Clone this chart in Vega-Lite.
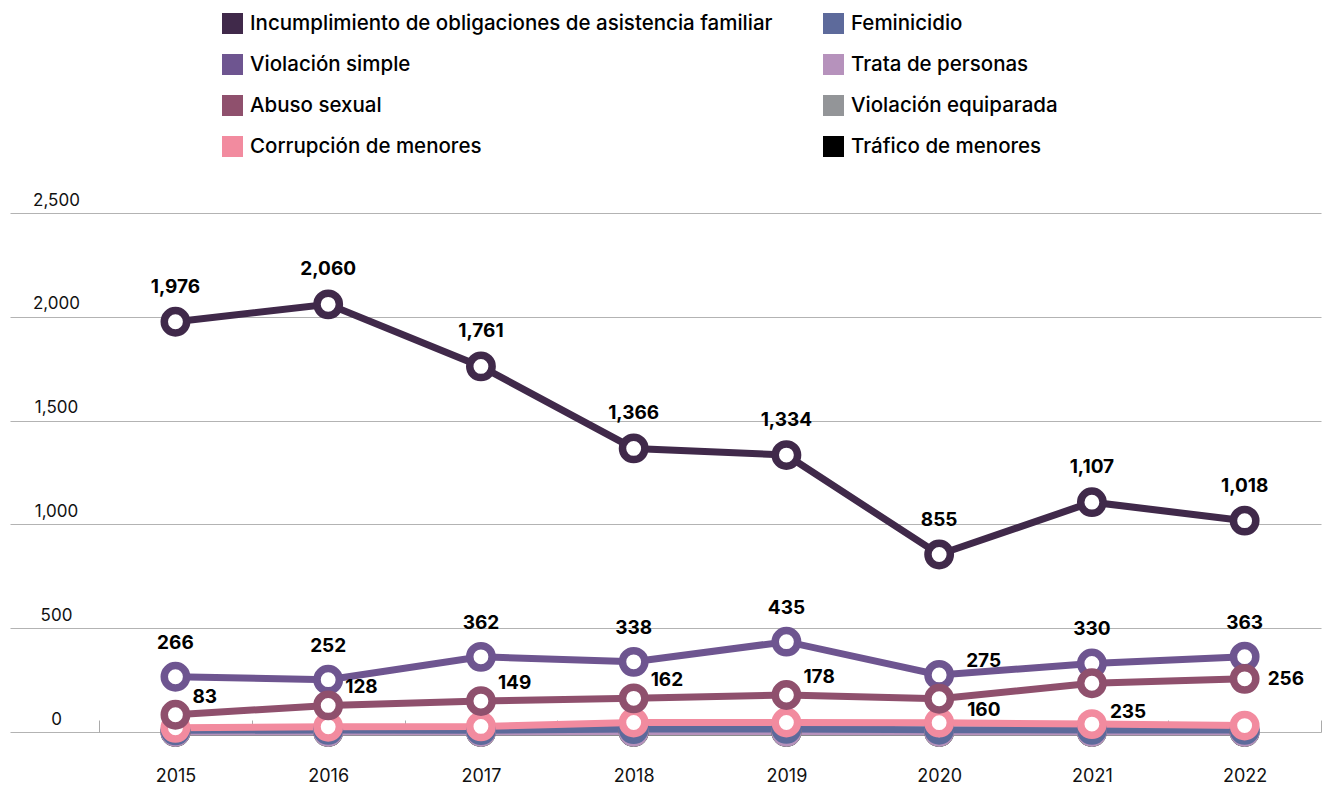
{
  "$schema": "https://vega.github.io/schema/vega-lite/v6.json",
  "autosize": {"type": "none"},
  "padding": {"left": 10, "top": 213, "right": 3, "bottom": 57},
  "width": 1311,
  "height": 519,
  "background": "white",
  "config": {
    "view": {"stroke": null},
    "font": "Inter",
    "axis": {"labelFont": "Inter", "labelColor": "#111111", "title": null}
  },
  "data": {
    "values": [
      {"s": "Tráfico de menores", "y": "2015", "v": 0},
      {"s": "Tráfico de menores", "y": "2016", "v": 0},
      {"s": "Tráfico de menores", "y": "2017", "v": 0},
      {"s": "Tráfico de menores", "y": "2018", "v": 0},
      {"s": "Tráfico de menores", "y": "2019", "v": 0},
      {"s": "Tráfico de menores", "y": "2020", "v": 0},
      {"s": "Tráfico de menores", "y": "2021", "v": 0},
      {"s": "Tráfico de menores", "y": "2022", "v": 0},
      {"s": "Violación equiparada", "y": "2015", "v": 0},
      {"s": "Violación equiparada", "y": "2016", "v": 0},
      {"s": "Violación equiparada", "y": "2017", "v": 0},
      {"s": "Violación equiparada", "y": "2018", "v": 0},
      {"s": "Violación equiparada", "y": "2019", "v": 0},
      {"s": "Violación equiparada", "y": "2020", "v": 0},
      {"s": "Violación equiparada", "y": "2021", "v": 0},
      {"s": "Violación equiparada", "y": "2022", "v": 0},
      {"s": "Trata de personas", "y": "2015", "v": 1},
      {"s": "Trata de personas", "y": "2016", "v": 1},
      {"s": "Trata de personas", "y": "2017", "v": 1},
      {"s": "Trata de personas", "y": "2018", "v": 2},
      {"s": "Trata de personas", "y": "2019", "v": 2},
      {"s": "Trata de personas", "y": "2020", "v": 1},
      {"s": "Trata de personas", "y": "2021", "v": 1},
      {"s": "Trata de personas", "y": "2022", "v": 1},
      {"s": "Feminicidio", "y": "2015", "v": 8},
      {"s": "Feminicidio", "y": "2016", "v": 10},
      {"s": "Feminicidio", "y": "2017", "v": 9},
      {"s": "Feminicidio", "y": "2018", "v": 14},
      {"s": "Feminicidio", "y": "2019", "v": 15},
      {"s": "Feminicidio", "y": "2020", "v": 11},
      {"s": "Feminicidio", "y": "2021", "v": 10},
      {"s": "Feminicidio", "y": "2022", "v": 10},
      {"s": "Corrupción de menores", "y": "2015", "v": 20},
      {"s": "Corrupción de menores", "y": "2016", "v": 25},
      {"s": "Corrupción de menores", "y": "2017", "v": 27},
      {"s": "Corrupción de menores", "y": "2018", "v": 46},
      {"s": "Corrupción de menores", "y": "2019", "v": 46},
      {"s": "Corrupción de menores", "y": "2020", "v": 45},
      {"s": "Corrupción de menores", "y": "2021", "v": 38},
      {"s": "Corrupción de menores", "y": "2022", "v": 31},
      {"s": "Violación simple", "y": "2015", "v": 266},
      {"s": "Violación simple", "y": "2016", "v": 252},
      {"s": "Violación simple", "y": "2017", "v": 362},
      {"s": "Violación simple", "y": "2018", "v": 338},
      {"s": "Violación simple", "y": "2019", "v": 435},
      {"s": "Violación simple", "y": "2020", "v": 275},
      {"s": "Violación simple", "y": "2021", "v": 330},
      {"s": "Violación simple", "y": "2022", "v": 363},
      {"s": "Abuso sexual", "y": "2015", "v": 83},
      {"s": "Abuso sexual", "y": "2016", "v": 128},
      {"s": "Abuso sexual", "y": "2017", "v": 149},
      {"s": "Abuso sexual", "y": "2018", "v": 162},
      {"s": "Abuso sexual", "y": "2019", "v": 178},
      {"s": "Abuso sexual", "y": "2020", "v": 160},
      {"s": "Abuso sexual", "y": "2021", "v": 235},
      {"s": "Abuso sexual", "y": "2022", "v": 256},
      {"s": "Incumplimiento de obligaciones de asistencia familiar", "y": "2015", "v": 1976},
      {"s": "Incumplimiento de obligaciones de asistencia familiar", "y": "2016", "v": 2060},
      {"s": "Incumplimiento de obligaciones de asistencia familiar", "y": "2017", "v": 1761},
      {"s": "Incumplimiento de obligaciones de asistencia familiar", "y": "2018", "v": 1366},
      {"s": "Incumplimiento de obligaciones de asistencia familiar", "y": "2019", "v": 1334},
      {"s": "Incumplimiento de obligaciones de asistencia familiar", "y": "2020", "v": 855},
      {"s": "Incumplimiento de obligaciones de asistencia familiar", "y": "2021", "v": 1107},
      {"s": "Incumplimiento de obligaciones de asistencia familiar", "y": "2022", "v": 1018}
    ]
  },
  "encoding": {
    "x": {
      "field": "y", "type": "nominal", "sort": null,
      "scale": {"type": "band", "domain": ["2015","2016","2017","2018","2019","2020","2021","2022"], "paddingInner": 0, "paddingOuter": 0.2916, "align": 1},
      "axis": {"domain": false, "grid": false, "labelAngle": 0, "labelFontSize": 18, "labelPadding": 47, "labelBaseline": "top", "tickBand": "extent", "tickSize": -12, "tickColor": "#aaaaaa", "tickWidth": 1}
    },
    "y": {
      "field": "v", "type": "quantitative",
      "scale": {"domain": [0, 2500], "nice": false, "zero": true},
      "axis": {"values": [0, 500, 1000, 1500, 2000, 2500], "format": ",.0f", "domain": false, "ticks": false, "tickSize": 0, "grid": true, "gridColor": "#b3b3b3", "gridWidth": 1, "labelAlign": "center", "labelPadding": -46, "labelBaseline": "alphabetic", "labelOffset": -8, "labelFontSize": 17}
    }
  },
  "layer": [
    {
      "transform": [{"filter": "false"}],
      "mark": {"type": "square", "filled": true},
      "encoding": {
        "color": {
          "field": "s", "type": "nominal",
          "scale": {
            "domain": ["Incumplimiento de obligaciones de asistencia familiar", "Feminicidio", "Violación simple", "Trata de personas", "Abuso sexual", "Violación equiparada", "Corrupción de menores", "Tráfico de menores"],
            "range": ["#40294a", "#5d6a9b", "#6e5590", "#b692bc", "#8f506d", "#939598", "#f28b9f", "#000000"]
          },
          "legend": {
            "title": null, "orient": "none", "legendX": 212, "legendY": -200, "columns": 2, "direction": "horizontal",
            "padding": 0, "symbolType": "square", "symbolSize": 440, "symbolStrokeWidth": 0, "symbolOpacity": 1,
            "labelFont": "Inter", "labelFontWeight": 500, "labelFontSize": 20.5, "labelColor": "#000000", "labelLimit": 0,
            "labelOffset": 7, "rowPadding": 20, "columnPadding": 50
          }
        }
      }
    },
    {
      "mark": {"type": "line", "strokeWidth": 7},
      "encoding": {
        "color": {"field": "s", "type": "nominal", "legend": null},
        "detail": {"field": "s"}
      }
    },
    {
      "mark": {"type": "point", "filled": false, "fill": "white", "fillOpacity": 1, "opacity": 1, "size": 500, "strokeWidth": 7.5, "shape": "circle"},
      "encoding": {
        "color": {"field": "s", "type": "nominal", "legend": null}
      }
    },
    {
      "transform": [{"filter": "datum.s === 'Incumplimiento de obligaciones de asistencia familiar'"}],
      "mark": {"type": "text", "fontWeight": "bold", "fontSize": 19, "font": "Inter", "color": "#000000", "dy": -35, "baseline": "middle", "align": "center"},
      "encoding": {"text": {"field": "v", "type": "quantitative", "format": ","}}
    },
    {
      "transform": [{"filter": "datum.s === 'Violación simple' && datum.y !== '2020'"}],
      "mark": {"type": "text", "fontWeight": "bold", "fontSize": 19, "font": "Inter", "color": "#000000", "dy": -34, "baseline": "middle", "align": "center"},
      "encoding": {"text": {"field": "v", "type": "quantitative", "format": ","}}
    },
    {
      "transform": [{"filter": "datum.s === 'Violación simple' && datum.y === '2020'"}],
      "mark": {"type": "text", "fontWeight": "bold", "fontSize": 19, "font": "Inter", "color": "#000000", "dx": 27, "dy": -14, "baseline": "middle", "align": "left"},
      "encoding": {"text": {"field": "v", "type": "quantitative", "format": ","}}
    },
    {
      "transform": [{"filter": "datum.s === 'Abuso sexual' && datum.y <= '2019'"}],
      "mark": {"type": "text", "fontWeight": "bold", "fontSize": 19, "font": "Inter", "color": "#000000", "dx": 17, "dy": -18, "baseline": "middle", "align": "left"},
      "encoding": {"text": {"field": "v", "type": "quantitative", "format": ","}}
    },
    {
      "transform": [{"filter": "datum.s === 'Abuso sexual' && datum.y === '2020'"}],
      "mark": {"type": "text", "fontWeight": "bold", "fontSize": 19, "font": "Inter", "color": "#000000", "dx": 28, "dy": 11, "baseline": "middle", "align": "left"},
      "encoding": {"text": {"field": "v", "type": "quantitative", "format": ","}}
    },
    {
      "transform": [{"filter": "datum.s === 'Abuso sexual' && datum.y === '2021'"}],
      "mark": {"type": "text", "fontWeight": "bold", "fontSize": 19, "font": "Inter", "color": "#000000", "dx": 18, "dy": 29, "baseline": "middle", "align": "left"},
      "encoding": {"text": {"field": "v", "type": "quantitative", "format": ","}}
    },
    {
      "transform": [{"filter": "datum.s === 'Abuso sexual' && datum.y === '2022'"}],
      "mark": {"type": "text", "fontWeight": "bold", "fontSize": 19, "font": "Inter", "color": "#000000", "dx": 23, "dy": 0, "baseline": "middle", "align": "left"},
      "encoding": {"text": {"field": "v", "type": "quantitative", "format": ","}}
    }
  ]
}
